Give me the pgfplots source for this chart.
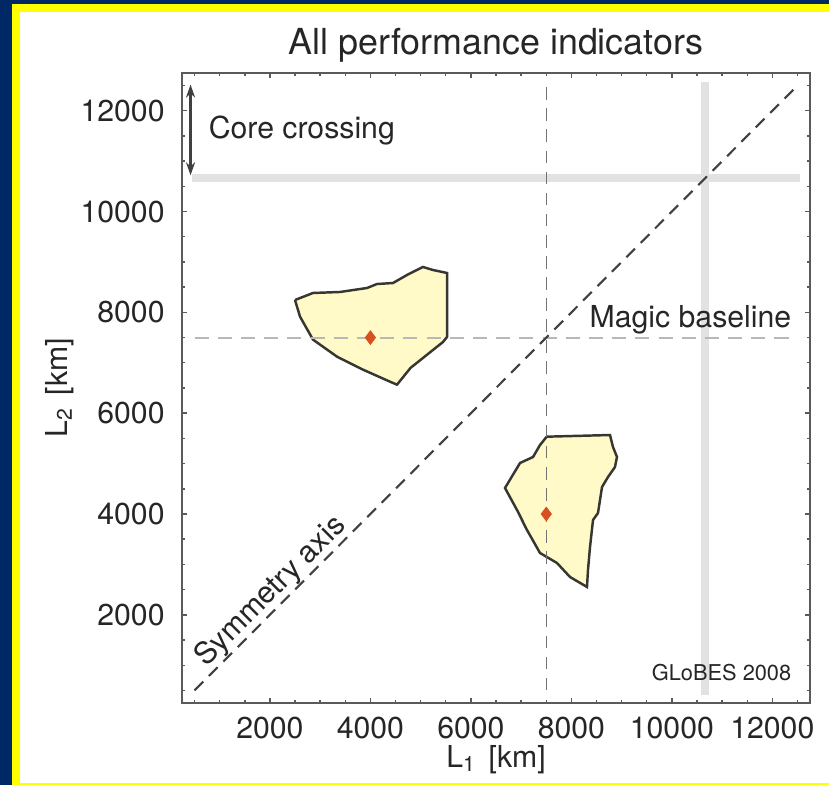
\documentclass[border=0pt]{standalone}
\usepackage{pgfplots}
\pgfplotsset{compat=1.18}
\usepackage{fontspec}
\setmainfont{TeX Gyre Heros}
\usetikzlibrary{arrows.meta}

\definecolor{framenavy}{RGB}{0,40,100}
\definecolor{frameyellow}{RGB}{255,255,0}
\definecolor{regionfill}{RGB}{255,250,200}
\definecolor{regionedge}{RGB}{55,55,50}
\definecolor{bestfit}{RGB}{215,80,30}
\definecolor{axisgray}{RGB}{90,90,90}
\definecolor{bandgray}{RGB}{226,226,226}

% allowed region around (4000,7500)
\pgfplotstableread{
x y
2499 8246
2857 8385
3395 8405
3932 8484
4131 8563
4450 8583
4728 8742
5047 8901
5246 8841
5525 8782
5525 7512
5445 7413
4800 6900
4529 6566
4390 6625
3853 6864
3335 7122
2857 7460
2599 7916
2499 8246
}\regionA

% allowed region around (7500,4000)
\pgfplotstableread{
x y
7509 5534
8769 5567
8829 5329
8908 5131
8868 4932
8729 4734
8610 4535
8530 4020
8431 3881
8371 3345
8331 2889
8311 2552
7973 2750
7714 3028
7376 3226
7117 3682
6918 4079
6679 4516
6978 5012
7237 5131
7376 5369
7509 5534
}\regionB

\begin{document}
\begin{tikzpicture}
% frame
\useasboundingbox (0,0) rectangle (8.29,7.85);
\fill[framenavy] (0,0) rectangle (8.29,7.85);
\fill[frameyellow] (0.12,0) rectangle (8.29,7.81);
\fill[white] (0.20,0.02) rectangle (8.29,7.73);

\begin{axis}[
  at={(1.82cm,0.82cm)}, anchor=south west,
  scale only axis,
  width=6.28cm, height=6.30cm,
  xmin=250, xmax=12750, ymin=250, ymax=12750,
  xtick={2000,4000,...,12000},
  ytick={2000,4000,...,12000},
  minor xtick={500,1000,...,12500},
  minor ytick={500,1000,...,12500},
  major tick length=0.05cm,
  minor tick length=0.028cm,
  tick align=inside,
  tick style={axisgray, line width=0.4pt},
  axis line style={axisgray, line width=0.5pt},
  scaled ticks=false,
  /pgf/number format/.cd, 1000 sep={}, assume math mode=true,
  /pgfplots/.cd,
  tick label style={font=\fontsize{8.6}{10}\selectfont, text=black!85},
  xticklabel style={yshift=-0.02cm},
  yticklabel style={xshift=-0.05cm},
  clip=false,
]
% core-crossing bands
\addplot[bandgray, line width=0.08cm] coordinates {(450,10665) (12550,10665)};
\addplot[bandgray, line width=0.08cm] coordinates {(10665,400) (10665,12570)};

% allowed regions
\addplot[fill=regionfill, draw=regionedge, line width=0.7pt] table {\regionA};
\addplot[fill=regionfill, draw=regionedge, line width=0.7pt] table {\regionB};

% magic baseline
\addplot[black!28, line width=0.6pt, dash pattern=on 4pt off 2.6pt] coordinates {(500,7500) (12500,7500)};
\addplot[black!55, line width=0.4pt, dash pattern=on 3.6pt off 2.4pt] coordinates {(7500,500) (7500,12500)};

% symmetry axis
\addplot[black!75, line width=0.6pt, dash pattern=on 3.5pt off 2.3pt] coordinates {(500,500) (12500,12500)};

% best fit points
\addplot[only marks, mark=diamond*, mark size=1.8pt, color=bestfit] coordinates {(4000,7500) (7500,4000)};

% core crossing arrow
\addplot[black!75, line width=0.7pt, {Stealth[length=0.13cm,width=0.09cm]}-{Stealth[length=0.13cm,width=0.09cm]}] coordinates {(420,12520) (420,10720)};

\node[anchor=west, inner sep=0pt, font=\fontsize{8.6}{10}\selectfont, text=black!85] at (axis cs:770,11600) {Core crossing};
\node[anchor=base east, inner sep=0pt, font=\fontsize{8.6}{10}\selectfont, text=black!85] at (axis cs:12390,7700) {Magic baseline};
\node[rotate=45, font=\fontsize{8.6}{10}\selectfont, text=black!85] at (axis cs:2020,2460) {Symmetry axis};
\node[anchor=east, inner sep=0pt, font=\fontsize{6.2}{7}\selectfont, text=black!85] at (axis cs:12390,845) {GLoBES 2008};
\end{axis}

% titles and labels
\node[font=\fontsize{10.2}{12}\selectfont, text=black!85] at (4.96,7.40) {All performance indicators};
\node[font=\fontsize{8.6}{10}\selectfont, text=black!85] at (4.96,0.25) {L\textsubscript{1}\hspace{0.4em}[km]};
\node[rotate=90, font=\fontsize{8.6}{10}\selectfont, text=black!85] at (0.60,3.97) {L\textsubscript{2}\hspace{0.4em}[km]};
\end{tikzpicture}
\end{document}
